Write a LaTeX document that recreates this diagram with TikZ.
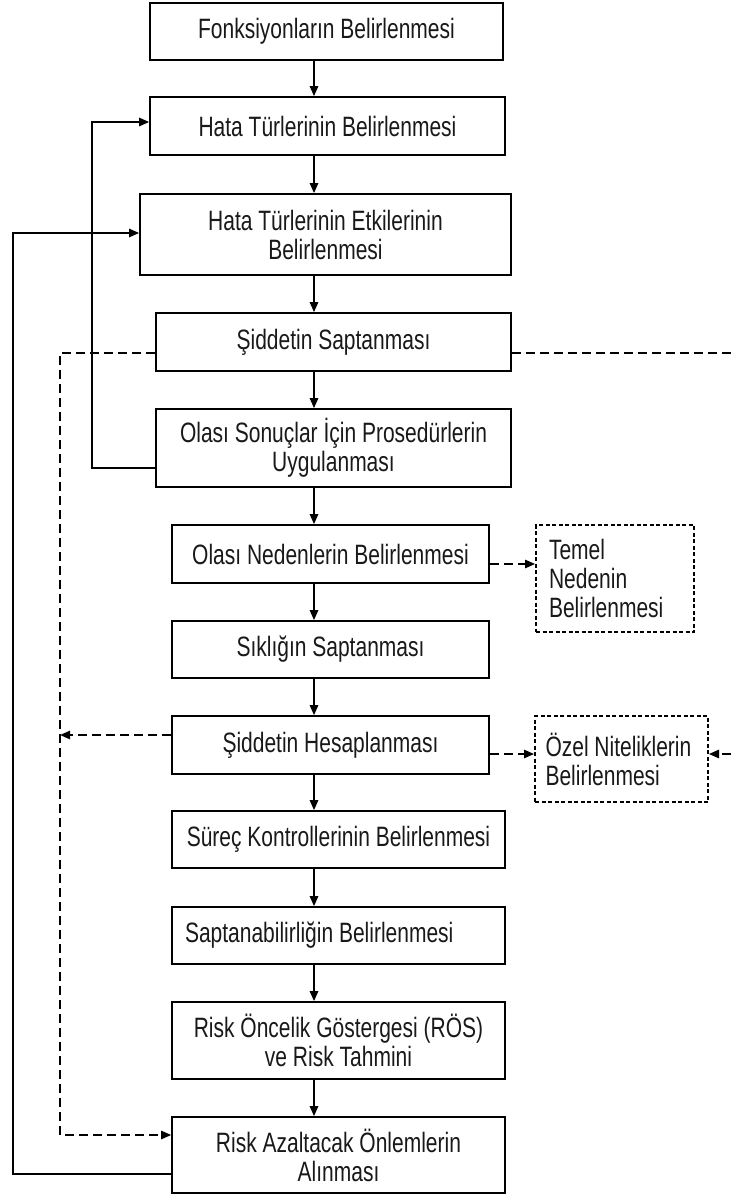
\documentclass[tikz,border=0pt]{standalone}
\usepackage{fontspec}
\setmainfont{Liberation Sans}[FakeStretch=0.75]
\usetikzlibrary{arrows.meta}
\hyphenpenalty=10000
\begin{document}
\begin{tikzpicture}[x=1pt,y=-1pt,
  every node/.style={font=\fontsize{28}{29}\selectfont, text=black!90},
  box/.style={draw, line width=1.8pt, align=center, inner sep=0pt},
  dbox/.style={draw, line width=2pt, dash pattern=on 4pt off 2.5pt, align=flush left, inner ysep=0pt},
  arr/.style={line width=1.3pt, -{Triangle[length=10pt,width=8.5pt]}},
  darr/.style={line width=1.3pt, dash pattern=on 9pt off 5pt, -{Triangle[length=10pt,width=8.5pt]}},
  dline/.style={line width=1.3pt, dash pattern=on 9pt off 5pt}]
\useasboundingbox[fill=white] (0,0) rectangle (731,1194);
\node[box, minimum width=353pt, minimum height=57pt] (b1) at (326.5,31.5) {Fonksiyonların Belirlenmesi};
\node[box, minimum width=355pt, minimum height=58pt] (b2) at (327.5,126) {Hata Türlerinin Belirlenmesi};
\node[box, minimum width=371pt, minimum height=81pt] (b3) at (325.5,234.5) {Hata Türlerinin Etkilerinin\\Belirlenmesi};
\node[box, minimum width=355pt, minimum height=58pt] (b4) at (333.5,342) {Şiddetin Saptanması};
\node[box, minimum width=355pt, minimum height=78pt] (b5) at (333.5,448) {Olası Sonuçlar İçin Prosedürlerin\\Uygulanması};
\node[box, minimum width=317pt, minimum height=58pt] (b6) at (330.5,554) {Olası Nedenlerin Belirlenmesi};
\node[dbox, text width=132pt, inner xsep=13pt, minimum height=107pt] (tn) at (615,578.5) {Temel\\Nedenin\\Belirlenmesi};
\node[box, minimum width=317pt, minimum height=57pt] (b7) at (330.5,649.5) {Sıklığın Saptanması};
\node[box, minimum width=317pt, minimum height=58pt] (b8) at (330.5,745) {Şiddetin Hesaplanması};
\node[dbox, text width=152pt, inner xsep=10.5pt, minimum height=86pt] (oz) at (621.5,759) {Özel Niteliklerin\\Belirlenmesi};
\node[box, minimum width=333pt, minimum height=57pt] (b9) at (338.5,839.5) {Süreç Kontrollerinin Belirlenmesi};
\node[box, align=flush left, text width=307pt, inner xsep=13pt, minimum height=57pt] (b10) at (338.5,935.5) {Saptanabilirliğin Belirlenmesi};
\node[box, minimum width=333pt, minimum height=77pt] (b11) at (338.5,1040.5) {Risk Öncelik Göstergesi (RÖS)\\ve Risk Tahmini};
\node[box, minimum width=333pt, minimum height=76pt] (b12) at (338.5,1155) {Risk Azaltacak Önlemlerin\\Alınması};
\coordinate (ax) at (314,0);
\coordinate (re) at (731,754);
\foreach \a/\b in {b1/b2,b2/b3,b3/b4,b4/b5,b5/b6,b6/b7,b7/b8,b8/b9,b9/b10,b10/b11,b11/b12}
  \draw[arr] (\a.south -| ax) -- (\b.north -| ax);
\draw[arr] ([yshift=-20pt]b5.west) -- ++(-63,0) |- ([yshift=4pt]b2.west);
\draw[arr] ([yshift=-19pt]b12.west) -- ++(-158,0) |- ([yshift=1.5pt]b3.west);
\draw[darr] ([yshift=-11pt]b4.west) -- ++(-95,0) |- ([yshift=20pt]b12.west);
\draw[darr] ([yshift=10pt]b8.west) -- ++(-111,0);
\draw[dline] ([yshift=-11pt]b4.east) -- ++(220,0);
\draw[darr] (re) -- ([yshift=5pt]oz.east);
\draw[darr] ([yshift=-9pt]b8.east) -- ([yshift=5pt]oz.west);
\draw[darr] ([yshift=-10pt]b6.east) -- ([yshift=14.5pt]tn.west);
\end{tikzpicture}
\end{document}
